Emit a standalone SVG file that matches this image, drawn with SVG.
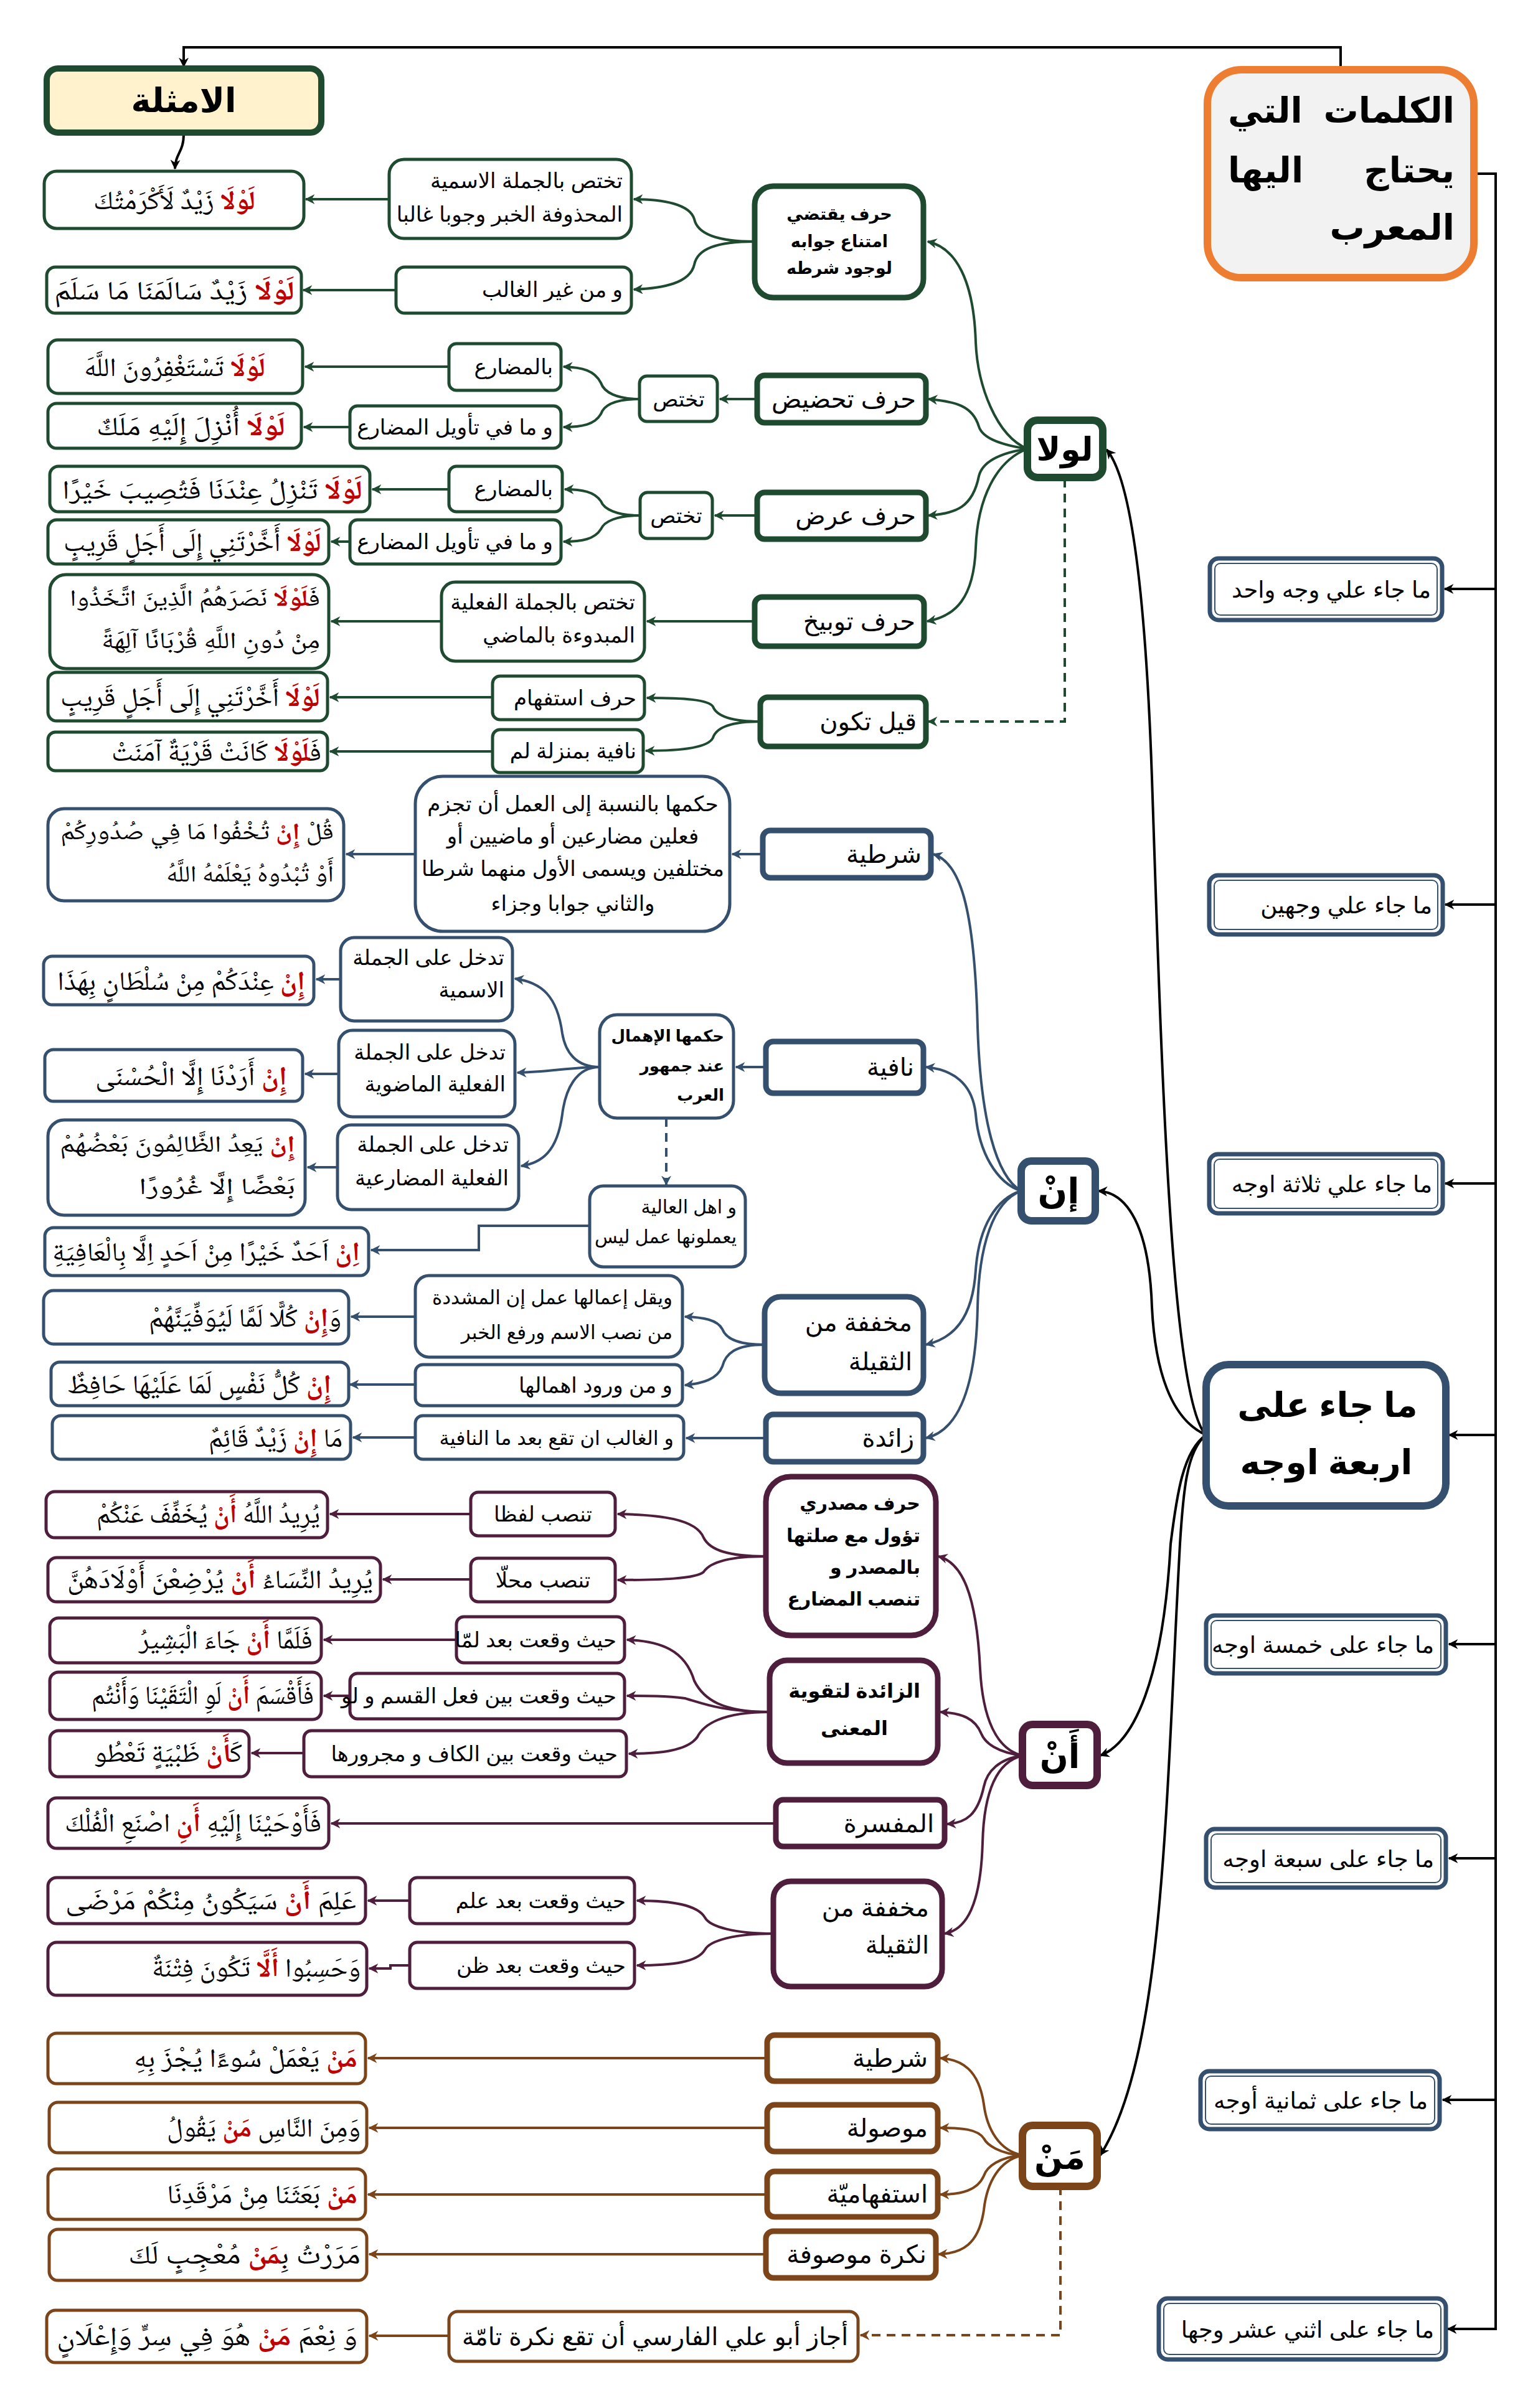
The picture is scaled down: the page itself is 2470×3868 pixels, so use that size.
<svg xmlns="http://www.w3.org/2000/svg" width="2470" height="3868" viewBox="0 0 2470 3868">
<style>
text{font-family:"Liberation Sans","DejaVu Sans","Noto Sans",sans-serif;direction:rtl;fill:#000}
.st{text-anchor:start}.mid{text-anchor:middle}.en{text-anchor:end}
.b{font-weight:bold}
.ex{font-family:"Noto Naskh Arabic","Noto Serif Arabic","Amiri","DejaVu Sans",serif;font-size:42px}
.ex2{font-size:37px}
.r{fill:#c00000;font-weight:bold}
.l34{font-size:34px}.l30{font-size:30px}.l38{font-size:38px}.l40{font-size:40px}.l37{font-size:37px}
.bx{fill:#fff}
.G{stroke:#1e4a30}.B{stroke:#34506e}.P{stroke:#4e1e3c}.N{stroke:#7b4519}.K{stroke:#000}
.w5{stroke-width:5}.w8{stroke-width:9}.w12{stroke-width:12}
.c{fill:none;stroke-width:4}
.cg{stroke:#1e4a30;marker-end:url(#mG)}
.cb{stroke:#34506e;marker-end:url(#mB)}
.cp{stroke:#4e1e3c;marker-end:url(#mP)}
.cn{stroke:#7b4519;marker-end:url(#mN)}
.ck{stroke:#000;marker-end:url(#mK)}
.d{stroke-dasharray:14 10}
.mj{fill:#fff;stroke:#34506e;stroke-width:7}
.mi{fill:none;stroke:#34506e;stroke-width:2}
</style>
<defs>
<marker id="mG" viewBox="0 0 10 10" refX="9" refY="5" markerWidth="16" markerHeight="16" markerUnits="userSpaceOnUse" orient="auto"><path d="M0,0L10,5L0,10L3,5z" fill="#1e4a30"/></marker>
<marker id="mB" viewBox="0 0 10 10" refX="9" refY="5" markerWidth="16" markerHeight="16" markerUnits="userSpaceOnUse" orient="auto"><path d="M0,0L10,5L0,10L3,5z" fill="#34506e"/></marker>
<marker id="mP" viewBox="0 0 10 10" refX="9" refY="5" markerWidth="16" markerHeight="16" markerUnits="userSpaceOnUse" orient="auto"><path d="M0,0L10,5L0,10L3,5z" fill="#4e1e3c"/></marker>
<marker id="mN" viewBox="0 0 10 10" refX="9" refY="5" markerWidth="16" markerHeight="16" markerUnits="userSpaceOnUse" orient="auto"><path d="M0,0L10,5L0,10L3,5z" fill="#7b4519"/></marker>
<marker id="mK" viewBox="0 0 10 10" refX="9" refY="5" markerWidth="16" markerHeight="16" markerUnits="userSpaceOnUse" orient="auto"><path d="M0,0L10,5L0,10L3,5z" fill="#000"/></marker>
</defs>
<rect width="2470" height="3868" fill="#fff"/>

<g id="connectors">
<path class="c ck" d="M2153,112L2153,76L295,76L295,107"/>
<path class="c ck" d="M295,215C295,245 282,245 281,271"/>
<path class="c ck" d="M2367,279L2402,279L2402,3741L2325,3741"/>
<path class="c ck" d="M2402,946L2320,946"/>
<path class="c ck" d="M2402,1453L2321,1453"/>
<path class="c ck" d="M2402,1901L2321,1901"/>
<path class="c ck" d="M2402,2305L2327,2305"/>
<path class="c ck" d="M2402,2641L2327,2641"/>
<path class="c ck" d="M2402,2985L2327,2985"/>
<path class="c ck" d="M2402,3373L2317,3373"/>
<path class="c ck" d="M1937,2305C1880,2250 1865,1700 1850,1250C1838,900 1810,760 1777,722"/>
<path class="c ck" d="M1937,2305C1880,2280 1855,2200 1850,2100C1845,1950 1800,1915 1764,1913"/>
<path class="c ck" d="M1937,2305C1900,2330 1890,2400 1880,2480C1868,2700 1820,2800 1767,2820"/>
<path class="c ck" d="M1937,2305C1905,2330 1900,2400 1895,2480C1872,2900 1870,3300 1767,3462"/>
<path class="c cg" d="M1650,721C1600,700 1570,620 1567,550C1564,450 1535,398 1490,388"/>
<path class="c cg" d="M1650,721C1610,715 1578,705 1572,685C1562,652 1535,645 1491,641"/>
<path class="c cg" d="M1650,721C1610,727 1578,740 1572,765C1562,815 1535,825 1491,828"/>
<path class="c cg" d="M1650,721C1600,740 1570,800 1567,880C1564,960 1535,990 1489,998"/>
<path class="c cg d" d="M1710,769L1710,1159L1491,1159"/>
<path class="c cg" d="M1212,388C1150,388 1120,375 1115,352C1108,328 1065,320 1018,320"/>
<path class="c cg" d="M1212,388C1150,388 1120,400 1115,425C1108,455 1065,463 1018,465"/>
<path class="c cg" d="M625,320L491,320"/>
<path class="c cg" d="M636,466L487,466"/>
<path class="c cg" d="M1216,641L1156,641"/>
<path class="c cg" d="M1027,641C990,641 970,630 965,615C955,595 935,590 905,589"/>
<path class="c cg" d="M1027,641C990,641 970,650 965,665C955,682 935,686 905,686"/>
<path class="c cg" d="M721,589L490,589"/>
<path class="c cg" d="M562,686L488,686"/>
<path class="c cg" d="M1216,828L1148,828"/>
<path class="c cg" d="M1028,828C990,828 970,818 965,805C955,790 935,786 907,786"/>
<path class="c cg" d="M1028,828C990,828 970,838 965,850C955,866 935,870 905,870"/>
<path class="c cg" d="M721,786L598,786"/>
<path class="c cg" d="M562,870L532,870"/>
<path class="c cg" d="M1212,998L1039,998"/>
<path class="c cg" d="M709,998L532,998"/>
<path class="c cg" d="M1221,1159C1170,1159 1150,1148 1145,1135C1138,1124 1100,1121 1039,1121"/>
<path class="c cg" d="M1221,1159C1170,1159 1150,1170 1145,1185C1138,1200 1100,1206 1037,1206"/>
<path class="c cg" d="M791,1120L530,1120"/>
<path class="c cg" d="M791,1207L530,1207"/>
<path class="c cb" d="M1640,1913C1600,1890 1575,1800 1570,1650C1565,1450 1540,1385 1499,1372"/>
<path class="c cb" d="M1640,1913C1600,1900 1572,1850 1567,1790C1562,1740 1530,1718 1487,1714"/>
<path class="c cb" d="M1640,1913C1600,1925 1572,1970 1567,2040C1562,2120 1530,2150 1487,2160"/>
<path class="c cb" d="M1640,1913C1595,1930 1572,2000 1570,2100C1567,2250 1530,2300 1487,2310"/>
<path class="c cb" d="M1225,1372L1176,1372"/>
<path class="c cb" d="M667,1372L556,1372"/>
<path class="c cb" d="M1230,1714L1182,1714"/>
<path class="c cb" d="M963,1714C925,1714 908,1690 903,1660C895,1600 870,1578 827,1572"/>
<path class="c cb" d="M963,1714C920,1714 880,1722 831,1723"/>
<path class="c cb" d="M963,1714C925,1714 908,1750 903,1790C895,1850 870,1868 837,1873"/>
<path class="c cb" d="M547,1573L508,1573"/>
<path class="c cb" d="M544,1725L490,1725"/>
<path class="c cb" d="M542,1875L494,1875"/>
<path class="c cb d" d="M1070,1796L1070,1903"/>
<path class="c cb" d="M947,1969L769,1969L769,2008L596,2008"/>
<path class="c cb" d="M1228,2160C1180,2160 1165,2148 1160,2135C1152,2120 1130,2116 1100,2115"/>
<path class="c cb" d="M1228,2160C1180,2160 1165,2175 1160,2195C1152,2215 1130,2222 1100,2225"/>
<path class="c cb" d="M667,2115L564,2115"/>
<path class="c cb" d="M667,2224L562,2224"/>
<path class="c cb" d="M1230,2310L1102,2310"/>
<path class="c cb" d="M667,2309L567,2309"/>
<path class="c cp" d="M1642,2820C1600,2810 1578,2760 1574,2680C1568,2560 1545,2510 1507,2500"/>
<path class="c cp" d="M1642,2820C1602,2815 1582,2800 1576,2785C1566,2760 1545,2752 1510,2750"/>
<path class="c cp" d="M1642,2820C1605,2825 1585,2845 1580,2870C1570,2915 1552,2928 1521,2930"/>
<path class="c cp" d="M1642,2820C1600,2830 1580,2880 1578,2960C1575,3060 1552,3100 1517,3106"/>
<path class="c cp" d="M1230,2500C1170,2500 1140,2490 1130,2470C1118,2440 1060,2433 992,2432"/>
<path class="c cp" d="M1230,2500C1170,2500 1140,2510 1130,2525C1118,2536 1060,2538 992,2538"/>
<path class="c cp" d="M756,2432L530,2432"/>
<path class="c cp" d="M756,2537L615,2537"/>
<path class="c cp" d="M1236,2750C1160,2750 1130,2730 1115,2700C1100,2650 1060,2636 1007,2634"/>
<path class="c cp" d="M1236,2750C1160,2750 1125,2735 1100,2728C1070,2724 1040,2724 1007,2724"/>
<path class="c cp" d="M1236,2750C1160,2750 1130,2770 1120,2790C1105,2812 1060,2817 1010,2817"/>
<path class="c cp" d="M733,2634L520,2634"/>
<path class="c cp" d="M562,2724L520,2724"/>
<path class="c cp" d="M488,2816L404,2816"/>
<path class="c cp" d="M1246,2929L532,2929"/>
<path class="c cp" d="M1242,3106C1180,3106 1140,3095 1132,3080C1120,3060 1080,3053 1023,3053"/>
<path class="c cp" d="M1242,3106C1180,3106 1140,3117 1132,3132C1120,3152 1080,3157 1023,3157"/>
<path class="c cp" d="M658,3053L591,3053"/>
<path class="c cp" d="M658,3157L627,3157L627,3162L593,3162"/>
<path class="c cn" d="M1642,3462C1605,3455 1585,3420 1580,3380C1572,3325 1545,3308 1510,3306"/>
<path class="c cn" d="M1642,3462C1605,3460 1585,3445 1580,3435C1570,3420 1545,3418 1510,3418"/>
<path class="c cn" d="M1642,3462C1605,3465 1585,3480 1580,3495C1570,3518 1545,3525 1510,3525"/>
<path class="c cn" d="M1642,3462C1605,3470 1585,3505 1580,3550C1572,3605 1545,3620 1507,3621"/>
<path class="c cn" d="M1232,3306L591,3306"/>
<path class="c cn" d="M1232,3418L593,3418"/>
<path class="c cn" d="M1232,3525L591,3525"/>
<path class="c cn" d="M1230,3621L593,3621"/>
<path class="c cn" d="M721,3752L593,3752"/>
<path class="c cn d" d="M1703,3512L1703,3751L1382,3751"/>
</g>

<g id="root"><rect x="1939" y="112" width="428" height="334" rx="55" fill="#f2f2f2" stroke="#ed7d31" stroke-width="12"/>
<text class="st b" x="2336" y="197" font-size="56">الكلمات</text><text class="en b" x="1972" y="197" font-size="56">التي</text>
<text class="st b" x="2336" y="293" font-size="56">يحتاج</text><text class="en b" x="1972" y="293" font-size="56">اليها</text>
<text class="st b" x="2336" y="385" font-size="56">المعرب</text></g>

<g id="amthila"><rect x="75" y="110" width="441" height="103" rx="18" fill="#fff2cc" class="G" stroke-width="10"/>
<text class="mid b" x="295" y="180" font-size="54">الامثلة</text></g>

<g id="m1"><rect class="mj" x="1943" y="897" width="373" height="99" rx="14"/><rect class="mi" x="1951" y="905" width="357" height="83" rx="9"/><text class="st l37" x="2298" y="960">ما جاء علي وجه واحد</text></g>
<g id="m2"><rect class="mj" x="1942" y="1406" width="375" height="95" rx="14"/><rect class="mi" x="1950" y="1414" width="359" height="79" rx="9"/><text class="st l37" x="2300" y="1467">ما جاء علي وجهين</text></g>
<g id="m3"><rect class="mj" x="1942" y="1854" width="375" height="95" rx="14"/><rect class="mi" x="1950" y="1862" width="359" height="79" rx="9"/><text class="st l37" x="2300" y="1915">ما جاء علي ثلاثة اوجه</text></g>
<g id="m4"><rect x="1937" y="2192" width="385" height="227" rx="36" fill="#fff" class="B" stroke-width="12"/>
<text class="mid b" x="2132" y="2276" font-size="55">ما جاء على</text>
<text class="mid b" x="2130" y="2368" font-size="55">اربعة اوجه</text></g>
<g id="m5"><rect class="mj" x="1937" y="2595" width="385" height="93" rx="14"/><rect class="mi" x="1945" y="2603" width="369" height="77" rx="9"/><text class="st l37" x="2303" y="2655">ما جاء على خمسة اوجه</text></g>
<g id="m7"><rect class="mj" x="1937" y="2938" width="385" height="94" rx="14"/><rect class="mi" x="1945" y="2946" width="369" height="78" rx="9"/><text class="st l37" x="2303" y="2999">ما جاء على سبعة اوجه</text></g>
<g id="m8"><rect class="mj" x="1928" y="3327" width="384" height="93" rx="14"/><rect class="mi" x="1936" y="3335" width="368" height="77" rx="9"/><text class="st l37" x="2293" y="3387">ما جاء على ثمانية أوجه</text></g>
<g id="m12"><rect class="mj" x="1861" y="3692" width="461" height="98" rx="14"/><rect class="mi" x="1869" y="3700" width="445" height="82" rx="9"/><text class="st l37" x="2303" y="3755">ما جاء على اثني عشر وجها</text></g>

<g id="lawla"><rect class="bx G w12" x="1650" y="675" width="121" height="92" rx="16"/><text class="mid b" x="1710" y="740" font-size="52">لولا</text></g>
<g id="lw1"><rect class="bx G w8" x="1212" y="299" width="271" height="179" rx="30"/>
<text class="mid b" font-size="27" x="1348" y="353">حرف يقتضي</text><text class="mid b" font-size="27" x="1348" y="397">امتناع جوابه</text><text class="mid b" font-size="27" x="1348" y="440">لوجود شرطه</text></g>
<g id="lw2"><rect class="bx G w8" x="1216" y="603" width="271" height="76" rx="12"/><text class="st l40" x="1471" y="655">حرف تحضيض</text></g>
<g id="lw3"><rect class="bx G w8" x="1216" y="791" width="271" height="75" rx="12"/><text class="st l40" x="1471" y="842">حرف عرض</text></g>
<g id="lw4"><rect class="bx G w8" x="1212" y="959" width="272" height="79" rx="12"/><text class="st l40" x="1470" y="1012">حرف توبيخ</text></g>
<g id="lw5"><rect class="bx G w8" x="1221" y="1120" width="266" height="79" rx="12"/><text class="st l40" x="1472" y="1173">قيل تكون</text></g>

<g id="lw1a"><rect class="bx G w5" x="625" y="256" width="389" height="127" rx="24"/><text class="st l34" x="1000" y="302">تختص بالجملة الاسمية</text><text class="st l34" x="1000" y="356">المحذوفة الخبر وجوبا غالبا</text></g>
<g id="lw1b"><rect class="bx G w5" x="636" y="429" width="378" height="74" rx="14"/><text class="st l34" x="1000" y="477">و من غير الغالب</text></g>
<g id="lw2a"><rect class="bx G w5" x="1027" y="604" width="125" height="73" rx="12"/><text class="mid l34" x="1090" y="653">تختص</text></g>
<g id="lw2b"><rect class="bx G w5" x="721" y="552" width="180" height="75" rx="12"/><text class="st l34" x="888" y="601">بالمضارع</text></g>
<g id="lw2c"><rect class="bx G w5" x="562" y="652" width="339" height="68" rx="12"/><text class="st l34" x="888" y="698">و ما في تأويل المضارع</text></g>
<g id="lw3a"><rect class="bx G w5" x="1028" y="791" width="116" height="74" rx="12"/><text class="mid l34" x="1086" y="840">تختص</text></g>
<g id="lw3b"><rect class="bx G w5" x="721" y="749" width="182" height="73" rx="12"/><text class="st l34" x="888" y="797">بالمضارع</text></g>
<g id="lw3c"><rect class="bx G w5" x="562" y="835" width="339" height="71" rx="12"/><text class="st l34" x="888" y="882">و ما في تأويل المضارع</text></g>
<g id="lw4a"><rect class="bx G w5" x="709" y="935" width="326" height="127" rx="22"/><text class="st l34" x="1020" y="979">تختص بالجملة الفعلية</text><text class="st l34" x="1020" y="1032">المبدوءة بالماضي</text></g>
<g id="lw5a"><rect class="bx G w5" x="791" y="1086" width="244" height="70" rx="12"/><text class="st l34" x="1022" y="1133">حرف استفهام</text></g>
<g id="lw5b"><rect class="bx G w5" x="791" y="1172" width="242" height="69" rx="12"/><text class="st l34" x="1022" y="1218">نافية بمنزلة لم</text></g>

<g id="e1"><rect class="bx G w5" x="71" y="275" width="417" height="92" rx="20"/><text class="ex st" x="410" y="336" textLength="260" lengthAdjust="spacingAndGlyphs"><tspan class="r">لَوْلَا</tspan> زَيْدٌ لَأَكْرَمْتُكَ</text></g>
<g id="e2"><rect class="bx G w5" x="75" y="429" width="409" height="74" rx="14"/><text class="ex st" x="473" y="481" textLength="386" lengthAdjust="spacingAndGlyphs"><tspan class="r">لَوْلَا</tspan> زَيْدٌ سَالَمَنَا مَا سَلَمَ</text></g>
<g id="e3"><rect class="bx G w5" x="77" y="546" width="409" height="86" rx="16"/><text class="ex st" x="426" y="604" textLength="291" lengthAdjust="spacingAndGlyphs"><tspan class="r">لَوْلَا</tspan> تَسْتَغْفِرُونَ اللَّهَ</text></g>
<g id="e4"><rect class="bx G w5" x="77" y="648" width="407" height="72" rx="14"/><text class="ex st" x="458" y="699" textLength="303" lengthAdjust="spacingAndGlyphs"><tspan class="r">لَوْلَا</tspan> أُنْزِلَ إِلَيْهِ مَلَكٌ</text></g>
<g id="e5"><rect class="bx G w5" x="80" y="749" width="514" height="73" rx="14"/><text class="ex st" x="582" y="801" textLength="482" lengthAdjust="spacingAndGlyphs"><tspan class="r">لَوْلَا</tspan> تَنْزِلُ عِنْدَنَا فَتُصِيبَ خَيْرًا</text></g>
<g id="e6"><rect class="bx G w5" x="77" y="835" width="451" height="71" rx="14"/><text class="ex st" x="516" y="885" textLength="414" lengthAdjust="spacingAndGlyphs"><tspan class="r">لَوْلَا</tspan> أَخَّرْتَنِي إِلَى أَجَلٍ قَرِيبٍ</text></g>
<g id="e7"><rect class="bx G w5" x="80" y="923" width="448" height="151" rx="26"/><text class="ex ex2 st" x="514" y="973" textLength="402" lengthAdjust="spacingAndGlyphs">فَ<tspan class="r">لَوْلَا</tspan> نَصَرَهُمُ الَّذِينَ اتَّخَذُوا</text><text class="ex ex2 st" x="514" y="1041" textLength="351" lengthAdjust="spacingAndGlyphs">مِنْ دُونِ اللَّهِ قُرْبَانًا آلِهَةً</text></g>
<g id="e8"><rect class="bx G w5" x="77" y="1080" width="449" height="78" rx="14"/><text class="ex st" x="514" y="1134" textLength="417" lengthAdjust="spacingAndGlyphs"><tspan class="r">لَوْلَا</tspan> أَخَّرْتَنِي إِلَى أَجَلٍ قَرِيبٍ</text></g>
<g id="e9"><rect class="bx G w5" x="77" y="1176" width="449" height="62" rx="12"/><text class="ex st" x="516" y="1222" textLength="337" lengthAdjust="spacingAndGlyphs">فَ<tspan class="r">لَوْلَا</tspan> كَانَتْ قَرْيَةٌ آمَنَتْ</text></g>

<g id="in"><rect class="bx B w12" x="1640" y="1865" width="119" height="96" rx="16"/><text class="mid b" x="1700" y="1933" font-size="56">إنْ</text></g>
<g id="in1"><rect class="bx B w8" x="1225" y="1334" width="270" height="76" rx="12"/><text class="st l40" x="1480" y="1386">شرطية</text></g>
<g id="in2"><rect class="bx B w8" x="1230" y="1673" width="253" height="83" rx="12"/><text class="st l40" x="1468" y="1728">نافية</text></g>
<g id="in3"><rect class="bx B w8" x="1228" y="2083" width="255" height="155" rx="26"/><text class="st l40" x="1465" y="2138">مخففة من</text><text class="st l40" x="1465" y="2201">الثقيلة</text></g>
<g id="in4"><rect class="bx B w8" x="1230" y="2272" width="253" height="76" rx="12"/><text class="st l40" x="1468" y="2324">زائدة</text></g>
<g id="in1a"><rect class="bx B w5" x="667" y="1247" width="505" height="249" rx="44"/>
<text class="mid l34" x="920" y="1303">حكمها بالنسبة إلى العمل أن تجزم</text>
<text class="mid l34" x="920" y="1355">فعلين مضارعين أو ماضيين أو</text>
<text class="mid l34" x="920" y="1407">مختلفين ويسمى الأول منهما شرطا</text>
<text class="mid l34" x="920" y="1463">والثاني جوابا وجزاء</text></g>
<g id="in2a"><rect class="bx B w5" x="963" y="1630" width="215" height="166" rx="28"/><text class="st b" font-size="26" x="1163" y="1673">حكمها الإهمال</text><text class="st b" font-size="26" x="1163" y="1721">عند جمهور</text><text class="st b" font-size="26" x="1163" y="1768">العرب</text></g>
<g id="in2b"><rect class="bx B w5" x="547" y="1506" width="276" height="134" rx="22"/><text class="st l34" x="810" y="1550">تدخل على الجملة</text><text class="st l34" x="810" y="1602">الاسمية</text></g>
<g id="in2c"><rect class="bx B w5" x="544" y="1655" width="283" height="139" rx="22"/><text class="st l34" x="812" y="1702">تدخل على الجملة</text><text class="st l34" x="812" y="1753">الفعلية الماضوية</text></g>
<g id="in2d"><rect class="bx B w5" x="542" y="1807" width="291" height="136" rx="22"/><text class="st l34" x="817" y="1850">تدخل على الجملة</text><text class="st l34" x="817" y="1904">الفعلية المضارعية</text></g>
<g id="in2e"><rect class="bx B w5" x="947" y="1905" width="250" height="130" rx="22"/><text class="st l30" x="1183" y="1949">و اهل العالية</text><text class="st l30" x="1183" y="1997">يعملونها عمل ليس</text></g>
<g id="in3a"><rect class="bx B w5" x="667" y="2049" width="429" height="131" rx="22"/><text class="st" font-size="31" x="1080" y="2095">ويقل إعمالها عمل إن المشددة</text><text class="st" font-size="31" x="1080" y="2151">من نصب الاسم ورفع الخبر</text></g>
<g id="in3b"><rect class="bx B w5" x="667" y="2192" width="429" height="66" rx="12"/><text class="st l34" x="1080" y="2237">و من ورود اهمالها</text></g>
<g id="in4a"><rect class="bx B w5" x="667" y="2274" width="431" height="70" rx="12"/><text class="st" font-size="32" x="1082" y="2321">و الغالب ان تقع بعد ما النافية</text></g>

<g id="ie1"><rect class="bx B w5" x="77" y="1299" width="475" height="148" rx="26"/><text class="ex ex2 st" x="536" y="1348" textLength="439" lengthAdjust="spacingAndGlyphs">قُلْ <tspan class="r">إِنْ</tspan> تُخْفُوا مَا فِي صُدُورِكُمْ</text><text class="ex ex2 st" x="536" y="1416" textLength="269" lengthAdjust="spacingAndGlyphs">أَوْ تُبْدُوهُ يَعْلَمْهُ اللَّهُ</text></g>
<g id="ie2"><rect class="bx B w5" x="70" y="1536" width="434" height="78" rx="14"/><text class="ex st" x="490" y="1590" textLength="398" lengthAdjust="spacingAndGlyphs"><tspan class="r">إِنْ</tspan> عِنْدَكُمْ مِنْ سُلْطَانٍ بِهَذَا</text></g>
<g id="ie3"><rect class="bx B w5" x="72" y="1686" width="414" height="83" rx="14"/><text class="ex st" x="461" y="1743" textLength="308" lengthAdjust="spacingAndGlyphs"><tspan class="r">إِنْ</tspan> أَرَدْنَا إِلَّا الْحُسْنَى</text></g>
<g id="ie4"><rect class="bx B w5" x="77" y="1799" width="413" height="153" rx="26"/><text class="ex ex2 st" x="474" y="1850" textLength="378" lengthAdjust="spacingAndGlyphs"><tspan class="r">إِنْ</tspan> يَعِدُ الظَّالِمُونَ بَعْضُهُمْ</text><text class="ex ex2 st" x="474" y="1918" textLength="251" lengthAdjust="spacingAndGlyphs">بَعْضًا إِلَّا غُرُورًا</text></g>
<g id="ie5"><rect class="bx B w5" x="72" y="1972" width="520" height="77" rx="14"/><text class="ex st" x="578" y="2025" textLength="494" lengthAdjust="spacingAndGlyphs"><tspan class="r">اِنْ</tspan> اَحَدٌ خَيْرًا مِنْ اَحَدٍ اِلَّا بِالْعَافِيَةِ</text></g>
<g id="ie6"><rect class="bx B w5" x="70" y="2073" width="490" height="86" rx="16"/><text class="ex st" x="548" y="2131" textLength="309" lengthAdjust="spacingAndGlyphs">وَ<tspan class="r">إِنْ</tspan> كُلًّا لَمَّا لَيُوَفِّيَنَّهُمْ</text></g>
<g id="ie7"><rect class="bx B w5" x="82" y="2188" width="478" height="70" rx="14"/><text class="ex st" x="532" y="2238" textLength="424" lengthAdjust="spacingAndGlyphs"><tspan class="r">إِنْ</tspan> كُلُّ نَفْسٍ لَمَا عَلَيْهَا حَافِظٌ</text></g>
<g id="ie8"><rect class="bx B w5" x="84" y="2274" width="479" height="70" rx="14"/><text class="ex st" x="550" y="2324" textLength="215" lengthAdjust="spacingAndGlyphs">مَا <tspan class="r">إِنْ</tspan> زَيْدٌ قَائِمٌ</text></g>

<g id="an"><rect class="bx P w12" x="1642" y="2770" width="120" height="98" rx="16"/><text class="mid b" x="1702" y="2840" font-size="54">أَنْ</text></g>
<g id="an1"><rect class="bx P w8" x="1230" y="2372" width="273" height="255" rx="40"/><text class="st b l30" x="1478" y="2425">حرف مصدري</text><text class="st b l30" x="1478" y="2477">تؤول مع صلتها</text><text class="st b l30" x="1478" y="2528">بالمصدر و</text><text class="st b l30" x="1478" y="2579">تنصب المضارع</text></g>
<g id="an2"><rect class="bx P w8" x="1236" y="2667" width="270" height="165" rx="28"/><text class="mid b" font-size="32" x="1372" y="2727">الزائدة لتقوية</text><text class="mid b" font-size="32" x="1372" y="2787">المعنى</text></g>
<g id="an3"><rect class="bx P w8" x="1246" y="2891" width="271" height="75" rx="12"/><text class="st l40" x="1500" y="2943">المفسرة</text></g>
<g id="an4"><rect class="bx P w8" x="1242" y="3022" width="271" height="169" rx="28"/><text class="st l40" x="1492" y="3078">مخففة من</text><text class="st l40" x="1492" y="3138">الثقيلة</text></g>
<g id="an1a"><rect class="bx P w5" x="756" y="2397" width="232" height="70" rx="12"/><text class="mid l34" x="872" y="2444">تنصب لفظا</text></g>
<g id="an1b"><rect class="bx P w5" x="756" y="2503" width="232" height="70" rx="12"/><text class="mid l34" x="872" y="2550">تنصب محلّا</text></g>
<g id="an2a"><rect class="bx P w5" x="733" y="2597" width="270" height="74" rx="12"/><text class="st l34" x="990" y="2646">حيث وقعت بعد لمّا</text></g>
<g id="an2b"><rect class="bx P w5" x="562" y="2688" width="441" height="73" rx="12"/><text class="st l34" x="990" y="2736">حيث وقعت بين فعل القسم و لو</text></g>
<g id="an2c"><rect class="bx P w5" x="488" y="2780" width="518" height="74" rx="12"/><text class="st l34" x="992" y="2829">حيث وقعت بين الكاف و مجرورها</text></g>
<g id="an4a"><rect class="bx P w5" x="658" y="3016" width="361" height="74" rx="12"/><text class="st l34" x="1005" y="3065">حيث وقعت بعد علم</text></g>
<g id="an4b"><rect class="bx P w5" x="658" y="3120" width="361" height="74" rx="12"/><text class="st l34" x="1005" y="3169">حيث وقعت بعد ظن</text></g>

<g id="ae1"><rect class="bx P w5" x="74" y="2396" width="452" height="74" rx="14"/><text class="ex st" x="514" y="2446" textLength="359" lengthAdjust="spacingAndGlyphs">يُرِيدُ اللَّهُ <tspan class="r">أَنْ</tspan> يُخَفِّفَ عَنْكُمْ</text></g>
<g id="ae2"><rect class="bx P w5" x="77" y="2502" width="534" height="71" rx="14"/><text class="ex st" x="599" y="2551" textLength="491" lengthAdjust="spacingAndGlyphs">يُرِيدُ النِّسَاءُ <tspan class="r">أَنْ</tspan> يُرْضِعْنَ أَوْلَادَهُنَّ</text></g>
<g id="ae3"><rect class="bx P w5" x="80" y="2599" width="436" height="72" rx="14"/><text class="ex st" x="502" y="2648" textLength="279" lengthAdjust="spacingAndGlyphs">فَلَمَّا <tspan class="r">أَنْ</tspan> جَاءَ الْبَشِيرُ</text></g>
<g id="ae4"><rect class="bx P w5" x="80" y="2686" width="436" height="76" rx="14"/><text class="ex st" x="504" y="2737" textLength="357" lengthAdjust="spacingAndGlyphs">فَأَقْسَمَ <tspan class="r">أَنْ</tspan> لَوِ الْتَقَيْنَا وَأَنْتُم</text></g>
<g id="ae5"><rect class="bx P w5" x="80" y="2780" width="320" height="74" rx="14"/><text class="ex st" x="389" y="2830" textLength="238" lengthAdjust="spacingAndGlyphs">كَ<tspan class="r">أَنْ</tspan> ظَبْيَةٍ تَعْطُو</text></g>
<g id="ae6"><rect class="bx P w5" x="77" y="2888" width="451" height="81" rx="14"/><text class="ex st" x="516" y="2942" textLength="412" lengthAdjust="spacingAndGlyphs">فَأَوْحَيْنَا إِلَيْهِ <tspan class="r">أَنِ</tspan> اصْنَعِ الْفُلْكَ</text></g>
<g id="ae7"><rect class="bx P w5" x="77" y="3016" width="510" height="74" rx="14"/><text class="ex st" x="572" y="3067" textLength="467" lengthAdjust="spacingAndGlyphs">عَلِمَ <tspan class="r">أَنْ</tspan> سَيَكُونُ مِنْكُمْ مَرْضَى</text></g>
<g id="ae8"><rect class="bx P w5" x="77" y="3120" width="512" height="85" rx="14"/><text class="ex st" x="579" y="3175" textLength="335" lengthAdjust="spacingAndGlyphs">وَحَسِبُوا <tspan class="r">أَلَّا</tspan> تَكُونَ فِتْنَةٌ</text></g>

<g id="man"><rect class="bx N w12" x="1642" y="3414" width="120" height="98" rx="16"/><text class="mid b" x="1702" y="3484" font-size="54">مَنْ</text></g>
<g id="mn1"><rect class="bx N w8" x="1232" y="3269" width="274" height="74" rx="12"/><text class="st l40" x="1490" y="3320">شرطية</text></g>
<g id="mn2"><rect class="bx N w8" x="1232" y="3381" width="274" height="75" rx="12"/><text class="st l40" x="1490" y="3432">موصولة</text></g>
<g id="mn3"><rect class="bx N w8" x="1232" y="3488" width="274" height="73" rx="12"/><text class="st l40" x="1490" y="3538">استفهاميّة</text></g>
<g id="mn4"><rect class="bx N w8" x="1230" y="3584" width="273" height="75" rx="12"/><text class="st l40" x="1488" y="3635">نكرة موصوفة</text></g>
<g id="mn5"><rect class="bx N w5" x="721" y="3713" width="657" height="80" rx="14"/><text class="st" font-size="39" x="1362" y="3767">أجاز أبو علي الفارسي أن تقع نكرة تامّة</text></g>
<g id="me1"><rect class="bx N w5" x="77" y="3266" width="510" height="81" rx="14"/><text class="ex st" x="574" y="3320" textLength="359" lengthAdjust="spacingAndGlyphs"><tspan class="r">مَنْ</tspan> يَعْمَلْ سُوءًا يُجْزَ بِهِ</text></g>
<g id="me2"><rect class="bx N w5" x="79" y="3377" width="510" height="81" rx="14"/><text class="ex st" x="579" y="3432" textLength="311" lengthAdjust="spacingAndGlyphs">وَمِنَ النَّاسِ <tspan class="r">مَنْ</tspan> يَقُولُ</text></g>
<g id="me3"><rect class="bx N w5" x="77" y="3484" width="510" height="81" rx="14"/><text class="ex st" x="574" y="3539" textLength="306" lengthAdjust="spacingAndGlyphs"><tspan class="r">مَنْ</tspan> بَعَثَنَا مِنْ مَرْقَدِنَا</text></g>
<g id="me4"><rect class="bx N w5" x="79" y="3581" width="510" height="82" rx="14"/><text class="ex st" x="579" y="3636" textLength="373" lengthAdjust="spacingAndGlyphs">مَرَرْتُ بِ<tspan class="r">مَنْ</tspan> مُعْجِبٍ لَكَ</text></g>
<g id="me5"><rect class="bx N w5" x="75" y="3711" width="514" height="84" rx="14"/><text class="ex st" x="574" y="3767" textLength="483" lengthAdjust="spacingAndGlyphs">وَ نِعْمَ <tspan class="r">مَنْ</tspan> هُوَ فِي سِرٍّ وَإِعْلَانٍ</text></g>
</svg>
